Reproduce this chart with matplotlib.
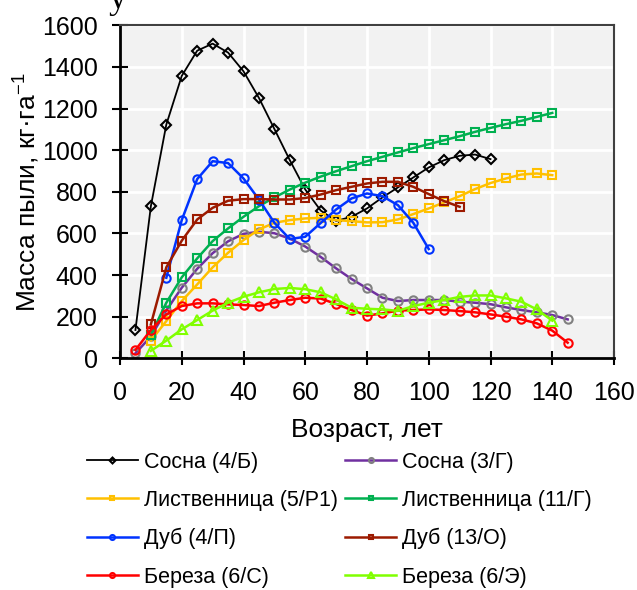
import numpy as np
import matplotlib
matplotlib.use("Agg")
import matplotlib.pyplot as plt

plt.rcParams['font.family'] = ['Liberation Sans', 'DejaVu Sans']
plt.rcParams['mathtext.fontset'] = 'custom'
plt.rcParams['mathtext.rm'] = 'Liberation Sans'

# data (age, years -> dust mass, kg/ha)
age_sosna_b = list(range(5, 121, 5))
sosna_b = [136, 731, 1123, 1357, 1478, 1512, 1469, 1379, 1251, 1102, 952, 811,
           710, 660, 680, 720, 773, 821, 869, 917, 952, 973, 979, 957]

age_sosna_g = list(range(5, 146, 5))
sosna_g = [24, 105, 230, 339, 430, 505, 562, 598, 608, 601, 575, 537, 487, 432, 381,
           336, 291, 275, 280, 280, 280, 272, 267, 260, 245, 232, 221, 208, 187]

age_listv_r1 = list(range(10, 141, 5))
listv_r1 = [85, 179, 275, 355, 437, 507, 568, 619, 651, 664, 672, 675, 664, 659,
            653, 654, 667, 693, 720, 749, 779, 813, 842, 864, 883, 888, 880]

age_listv_g = list(range(10, 141, 5))
listv_g = [112, 267, 389, 480, 563, 624, 680, 731, 773, 811, 844, 873, 899, 923,
           947, 968, 989, 1010, 1029, 1048, 1067, 1088, 1107, 1125, 1141, 1160, 1179]

age_dub_p = list(range(15, 101, 5))
dub_p = [387, 664, 861, 947, 938, 864, 763, 651, 573, 584, 650, 715, 768, 792,
         779, 736, 651, 525]

age_dub_o = list(range(10, 111, 5))
dub_o = [163, 437, 565, 667, 723, 757, 765, 765, 763, 763, 770, 787, 808, 824,
         840, 848, 848, 824, 789, 755, 728]

age_ber_s = list(range(5, 146, 5))
ber_s = [40, 136, 211, 251, 264, 264, 259, 256, 251, 267, 280, 291, 287, 261, 232,
         205, 216, 229, 232, 235, 232, 227, 221, 211, 200, 187, 168, 133, 75]

age_ber_e = list(range(10, 141, 5))
ber_e = [36, 85, 139, 184, 229, 267, 296, 317, 333, 338, 332, 317, 283, 243, 238,
         235, 228, 251, 267, 280, 295, 302, 302, 288, 272, 235, 181]

series = [
    ("Сосна (4/Б)", age_sosna_b, sosna_b, "black", "black", "D", 5, 1.3),
    ("Сосна (3/Г)", age_sosna_g, sosna_g, "#7030a0", "#808080", "o", 6, 1.8),
    ("Лиственница (5/Р1)", age_listv_r1, listv_r1, "#ffc000", "#ffc000", "s", 5.7, 1.8),
    ("Лиственница (11/Г)", age_listv_g, listv_g, "#00b050", "#00b050", "s", 5.7, 1.8),
    ("Дуб (4/П)", age_dub_p, dub_p, "#0033ff", "#0033ff", "o", 6, 1.8),
    ("Дуб (13/О)", age_dub_o, dub_o, "#9c1a00", "#9c1a00", "s", 5.7, 1.8),
    ("Береза (6/С)", age_ber_s, ber_s, "#ff0000", "#ff0000", "o", 6, 1.8),
    ("Береза (6/Э)", age_ber_e, ber_e, "#80ff00", "#80ff00", "^", 6.5, 1.8),
]

fig = plt.figure(figsize=(6.37, 5.90), dpi=100)
ax = fig.add_axes([120 / 637, 1 - 358.3 / 590, 494 / 637, 333 / 590])
ax.set_facecolor("#f2f2f2")

lines = []
for label, xs, ys, lc, mc, mk, ms, lw in series:
    ln, = ax.plot(xs, ys, color=lc, lw=lw, marker=mk, ms=ms, mfc="none", mec=mc,
                  mew=1.5, label=label)
    lines.append(ln)

ax.set_xlim(0, 160)
ax.set_ylim(0, 1600)
ax.set_xticks(range(0, 161, 20))
ax.set_yticks(range(0, 1601, 200))
ax.grid(color="white", lw=2)
ax.set_axisbelow(True)
ax.tick_params(direction="inout", width=1.5, labelsize=18)
ax.tick_params(axis="x", length=10, pad=11)
ax.tick_params(axis="y", length=12, pad=10)
for s in ["left", "bottom"]:
    ax.spines[s].set_linewidth(2)
    ax.spines[s].set_color("black")
for s in ["top", "right"]:
    ax.spines[s].set_linewidth(1.5)
    ax.spines[s].set_color("#404040")

ax.set_xlabel("Возраст, лет", fontsize=19, labelpad=10)
ax.set_ylabel(r"Масса пыли, кг·га$^{\mathregular{-1}}$", fontsize=19, labelpad=1)

# legend filled row by row like the original
order = [0, 2, 4, 6, 1, 3, 5, 7]
fig.legend([lines[i] for i in order], [series[i][0] for i in order],
           loc="upper left", bbox_to_anchor=(78 / 637, 1 - 443 / 590), ncol=2,
           frameon=False, fontsize=15.5, handlelength=2.37, handletextpad=0.28,
           columnspacing=0.35, labelspacing=0.8, markerscale=0.6,
           borderaxespad=0)

fig.text(118 / 637, 1 - 8 / 590, "у", family="Liberation Serif", fontsize=26,
         ha="center", va="baseline")

plt.savefig("out.png", dpi=100)
